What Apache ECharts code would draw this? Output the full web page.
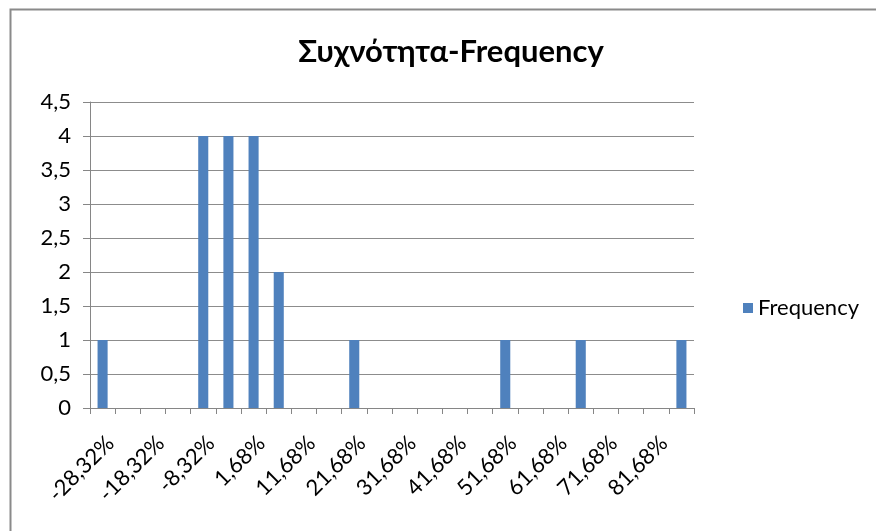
<!DOCTYPE html>
<html>
<head>
<meta charset="utf-8">
<script src="https://cdn.jsdelivr.net/npm/echarts@6/dist/echarts.min.js"></script>
<style>
html,body{margin:0;padding:0;background:#fff;}
#chart{width:876px;height:531px;}
</style>
</head>
<body>
<div id="chart"></div>
<script>
var titleText = 'Συχνότητα-Frequency';
var seriesName = 'Frequency';
var categories = ['-28,32%','-23,32%','-18,32%','-13,32%','-8,32%','-3,32%','1,68%','6,68%',
  '11,68%','16,68%','21,68%','26,68%','31,68%','36,68%','41,68%','46,68%',
  '51,68%','56,68%','61,68%','66,68%','71,68%','76,68%','81,68%','86,68%'];
var frequency = [1,0,0,0,4,4,4,2,0,0,1,0,0,0,0,0,1,0,0,1,0,0,0,1];
var yMin = 0, yMax = 4.5, yStep = 0.5;

var chart = echarts.init(document.getElementById('chart'));
var font = 'Lato';
chart.setOption({
  backgroundColor: '#ffffff',
  animation: false,
  graphic: [{
    type: 'rect',
    shape: {x: 10.5, y: 9.5, width: 900, height: 600},
    style: {fill: 'none', stroke: '#8a8a8a', lineWidth: 2}
  }],
  title: {
    text: titleText,
    left: 446, top: 31, textAlign: 'center',
    textStyle: {fontFamily: font, fontSize: 31, fontWeight: 'bold', color: '#000'}
  },
  legend: {
    data: [seriesName],
    left: 738, top: 292,
    itemWidth: 10, itemHeight: 10, itemGap: 9,
    icon: 'rect',
    textStyle: {fontFamily: font, fontSize: 22, color: '#000'}
  },
  grid: {left: 90, right: 182, top: 102, bottom: 123, containLabel: false},
  xAxis: {
    type: 'category',
    data: categories,
    boundaryGap: true,
    axisLine: {lineStyle: {color: '#868686', width: 1}},
    axisTick: {show: true, interval: 0, length: 6, lineStyle: {color: '#868686'}},
    axisLabel: {interval: 1, rotate: 45, fontFamily: font, fontSize: 22, color: '#000', margin: 24, verticalAlign: 'top'},
    splitLine: {show: false}
  },
  yAxis: {
    type: 'value',
    min: yMin, max: yMax, interval: yStep,
    axisLine: {show: true, lineStyle: {color: '#868686', width: 1}},
    axisTick: {show: true, length: 7, lineStyle: {color: '#868686'}},
    axisLabel: {
      fontFamily: font, fontSize: 22, color: '#000', margin: 19,
      formatter: function (v) { return String(v).replace('.', ','); }
    },
    splitLine: {show: true, lineStyle: {color: '#8c8c8c', width: 1}}
  },
  series: [{
    name: seriesName,
    type: 'bar',
    data: frequency,
    barWidth: '40%',
    itemStyle: {color: '#4F81BD'}
  }]
});
</script>
</body>
</html>
